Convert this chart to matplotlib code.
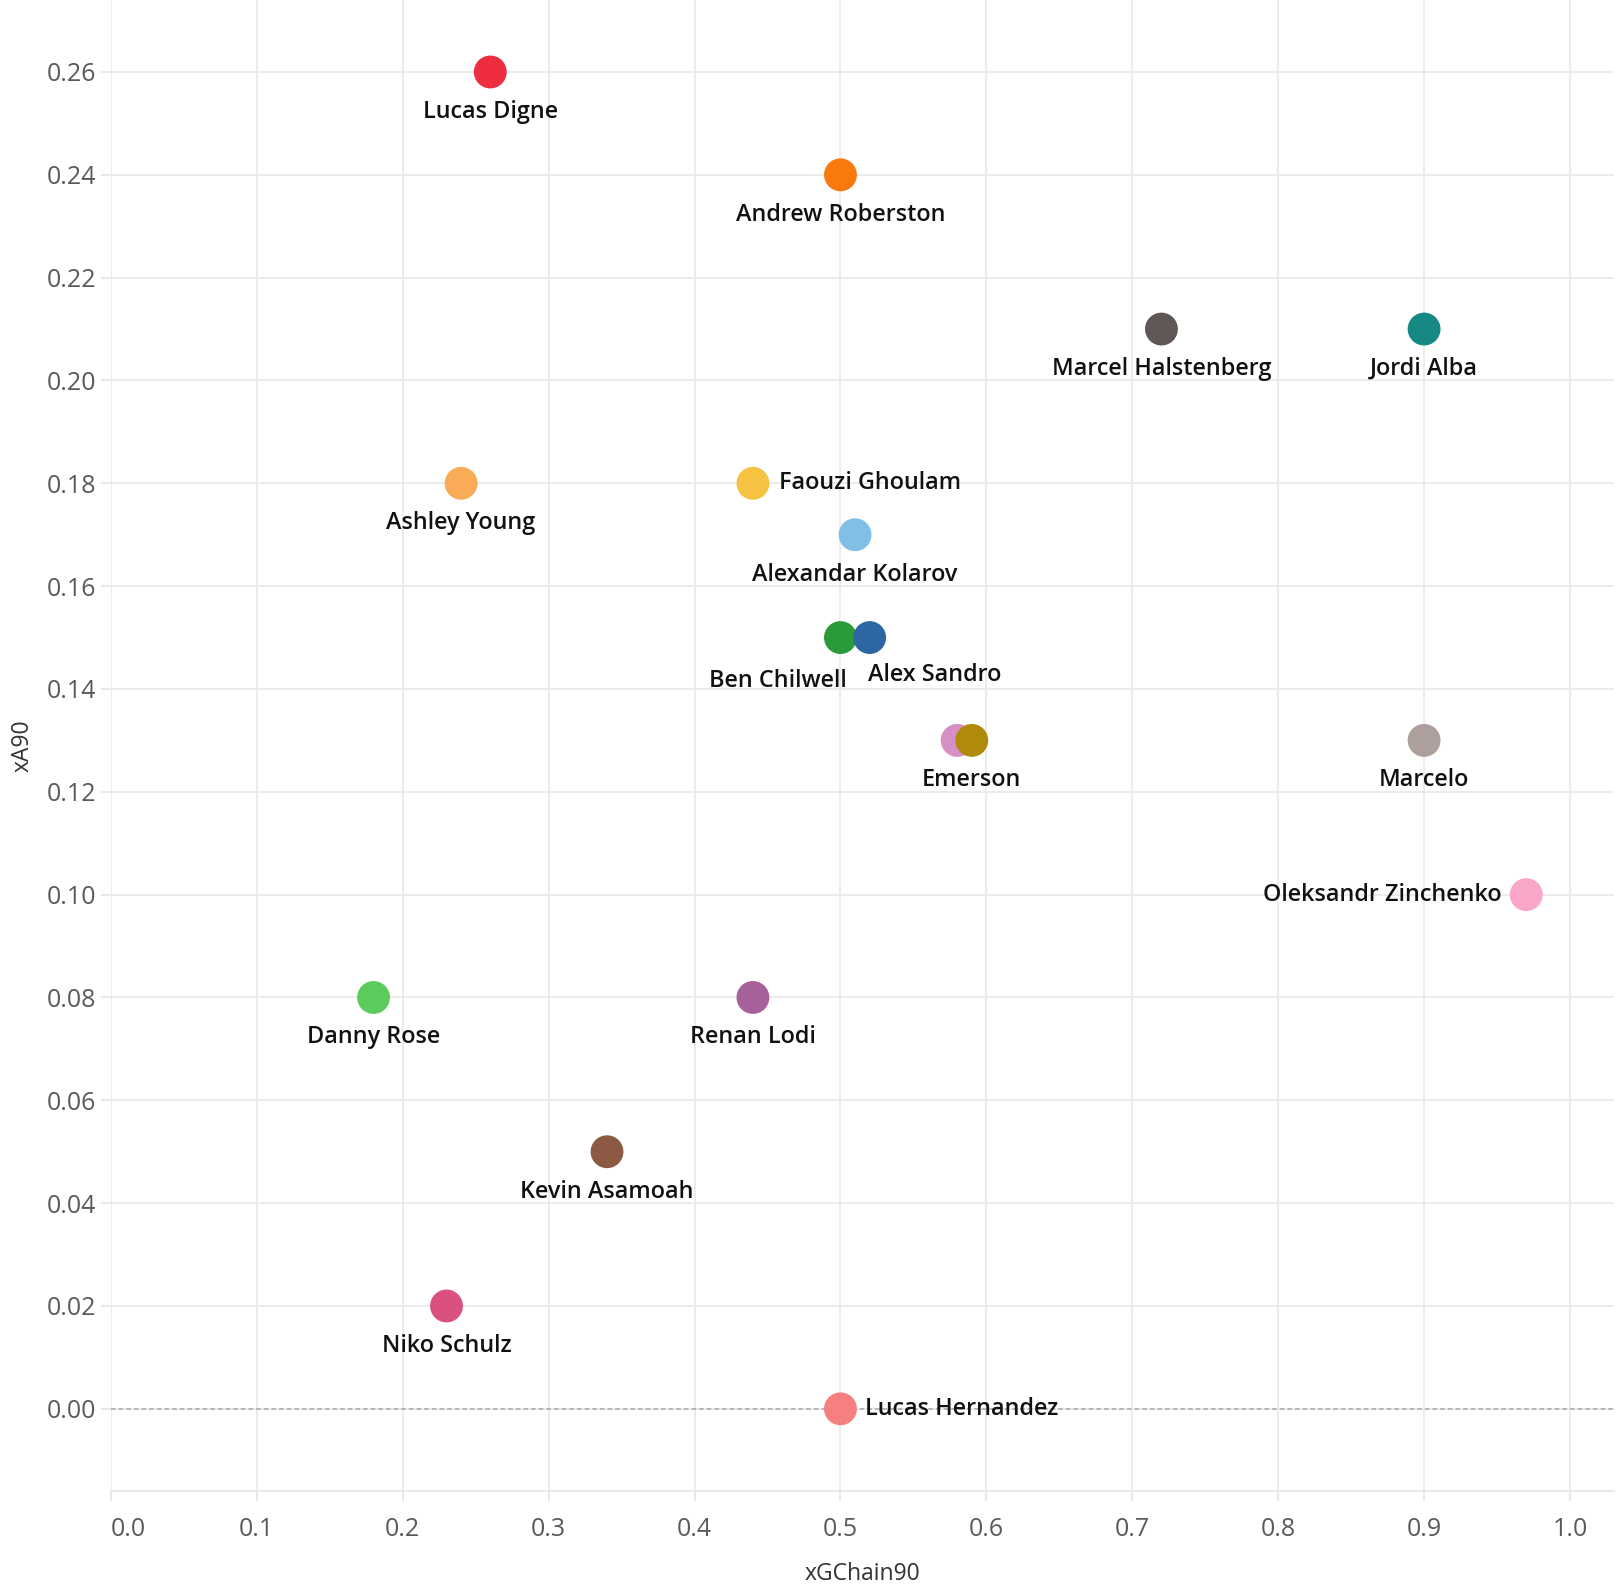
import matplotlib
matplotlib.use("Agg")
import matplotlib.pyplot as plt

# data
players = ["Lucas Digne", "Andrew Roberston", "Marcel Halstenberg", "Jordi Alba",
           "Ashley Young", "Faouzi Ghoulam", "Alexandar Kolarov", "Ben Chilwell",
           "Alex Sandro", "Emerson", "Emerson", "Marcelo", "Oleksandr Zinchenko",
           "Danny Rose", "Renan Lodi", "Kevin Asamoah", "Niko Schulz", "Lucas Hernandez"]
xgchain90 = [0.26, 0.50, 0.72, 0.90, 0.24, 0.44, 0.51, 0.50, 0.52, 0.58, 0.59,
             0.90, 0.97, 0.18, 0.44, 0.34, 0.23, 0.50]
xa90 = [0.26, 0.24, 0.21, 0.21, 0.18, 0.18, 0.17, 0.15, 0.15, 0.13, 0.13,
        0.13, 0.10, 0.08, 0.08, 0.05, 0.02, 0.00]
colors = ["#ee2e40", "#f97a0c", "#5f5857", "#168984", "#f9ac55", "#f5c341",
          "#82bfe6", "#2b9a38", "#2d66a2", "#d690c6", "#b08b09", "#ac9f9c",
          "#f9a6c8", "#5dcb5b", "#a6619a", "#8c5a42", "#d95081", "#f67f80"]
# label placement: (dx, dy, ha) in pixels
label_pos = {
    "Faouzi Ghoulam": (26, 0, "left"),
    "Lucas Hernandez": (25, 0, "left"),
    "Oleksandr Zinchenko": (-25, 0, "right"),
    "Ben Chilwell": (-63, -43, "center"),
    "Alex Sandro": (65, -37, "center"),
}

fig = plt.figure(figsize=(16.17, 15.92), dpi=100)
ax = fig.add_axes([0.0686, 0.0634, 0.998 - 0.0686, 1 - 0.0634])

ax.axhline(0, color="#a8a8a8", lw=1.1, ls=(0, (3, 2)), zorder=1)
ax.scatter(xgchain90, xa90, s=560, c=colors, edgecolors="none", zorder=3)

# only one label per name (the later point wins, as in the original)
seen = set()
for name, x, y in reversed(list(zip(players, xgchain90, xa90))):
    if name in seen:
        continue
    seen.add(name)
    dx, dy, ha = label_pos.get(name, (0, -40, "center"))
    ax.annotate(name, (x, y), xytext=(dx, dy), textcoords="offset pixels",
                ha=ha, va="center", fontsize=16.8, fontweight="semibold",
                family="Open Sans", color="#111111", zorder=4)

ax.set_xlim(0, 1.03)
ax.set_ylim(-0.016, 0.274)
ax.set_xticks([i / 10 for i in range(11)])
ax.set_yticks([i / 50 for i in range(14)])
ax.set_xticklabels([f"{i / 10:.1f}" for i in range(11)])
ax.set_yticklabels([f"{i / 50:.2f}" for i in range(14)])
ax.get_xticklabels()[0].set_ha("left")

ax.grid(True, color="#ebebeb", lw=1.3, zorder=0)
ax.set_axisbelow(True)
for s in ["top", "right", "left"]:
    ax.spines[s].set_visible(False)
ax.spines["bottom"].set_color("#e6e6e6")
ax.spines["bottom"].set_linewidth(1.3)
ax.tick_params(axis="both", colors="#e6e6e6", length=7, width=1.3,
               labelsize=18, labelcolor="#5a5a5a")
ax.tick_params(axis="x", pad=12)
for lab in ax.get_xticklabels() + ax.get_yticklabels():
    lab.set_family("Open Sans")

ax.set_xlabel("xGChain90", fontsize=16.5, color="#333333", family="Open Sans", labelpad=14)
ax.set_ylabel("xA90", fontsize=16.5, color="#333333", family="Open Sans", labelpad=9)

fig.savefig("out.png", dpi=100, facecolor="white")
